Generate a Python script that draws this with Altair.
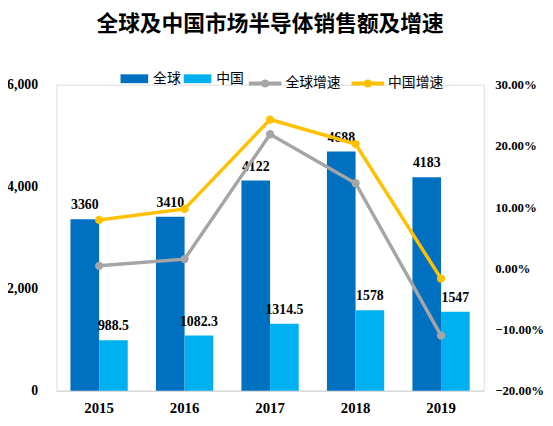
import altair as alt
import pandas as pd

years = ["2015", "2016", "2017", "2018", "2019"]
global_sales = [3360, 3410, 4122, 4688, 4183]
china_sales = [988.5, 1082.3, 1314.5, 1578, 1547]
global_growth = [0.004, 0.015, 0.219, 0.139, -0.110]
china_growth = [0.079, 0.097, 0.243, 0.203, -0.017]

bar_series = ["全球", "中国"]
line_series = ["全球增速", "中国增速"]
bar_colors = ["#0070C0", "#00B0F0"]
line_colors = ["#A5A5A5", "#FFC000"]

rows = []
for i, y in enumerate(years):
    rows.append({"year": y, "series": "全球", "value": global_sales[i], "label": f"{global_sales[i]:g}"})
    rows.append({"year": y, "series": "中国", "value": china_sales[i], "label": f"{china_sales[i]:g}"})
bars_df = pd.DataFrame(rows)

lrows = []
for i, y in enumerate(years):
    lrows.append({"year": y, "series": "全球增速", "rate": global_growth[i]})
    lrows.append({"year": y, "series": "中国增速", "rate": china_growth[i]})
lines_df = pd.DataFrame(lrows)

NUM_FONT = "Liberation Serif"
CJK_FONT = "Noto Sans CJK SC"

x_enc = alt.X(
    "year:N",
    sort=years,
    scale=alt.Scale(paddingInner=0.33, paddingOuter=0.165),
    axis=alt.Axis(
        title=None, labelAngle=0, ticks=False, domainColor="#D9D9D9", domainWidth=1.5,
        labelPadding=10, labelFont=NUM_FONT, labelFontSize=15, labelFontWeight="bold",
        labelColor="#000000", grid=False,
    ),
)

y_left = alt.Y(
    "value:Q",
    scale=alt.Scale(domain=[0, 6000], nice=False),
    axis=alt.Axis(
        title=None, values=[0, 2000, 4000, 6000], format=",.0f", domain=False, ticks=False,
        grid=False, labelPadding=19, labelFont=NUM_FONT, labelFontSize=14,
        labelFontWeight="bold", labelColor="#000000",
    ),
)

bar_rect = "M-1,-0.32H1V0.32H-1Z"
bars = alt.Chart(bars_df).mark_bar().encode(
    x=x_enc,
    xOffset=alt.XOffset("series:N", sort=bar_series, scale=alt.Scale(paddingInner=0, paddingOuter=0)),
    y=y_left,
    color=alt.Color(
        "series:N",
        scale=alt.Scale(domain=bar_series, range=bar_colors),
        legend=alt.Legend(
            title=None, orient="none", direction="horizontal", legendX=65, legendY=-20,
            symbolType=bar_rect, symbolSize=784, symbolStrokeWidth=0, labelOffset=5,
            columnPadding=3, labelFont=CJK_FONT, labelFontSize=14, labelColor="#000000",
            padding=0,
        ),
    ),
)

bar_text = alt.Chart(bars_df).mark_text(
    baseline="bottom", dy=-7, font=NUM_FONT, fontSize=14, fontWeight="bold", color="#000000"
).encode(
    x=alt.X("year:N", sort=years),
    xOffset=alt.XOffset("series:N", sort=bar_series),
    y=alt.Y("value:Q"),
    text="label:N",
)

bar_layer = alt.layer(bars, bar_text)

y_right = alt.Y(
    "rate:Q",
    scale=alt.Scale(domain=[-0.2, 0.3], nice=False),
    axis=alt.Axis(
        title=None, orient="right", values=[-0.2, -0.1, 0, 0.1, 0.2, 0.3], format=".2%",
        domain=False, ticks=False, grid=False, labelPadding=11, labelFont=NUM_FONT,
        labelFontSize=13, labelFontWeight="bold", labelColor="#000000",
    ),
)

line_sym = "M-1,0H1M-0.12,0A0.12,0.12 0 1,0 0.12,0A0.12,0.12 0 1,0 -0.12,0"
lines = alt.Chart(lines_df).mark_line(strokeWidth=3.5).encode(
    x=alt.X("year:N", sort=years),
    y=y_right,
    stroke=alt.Stroke(
        "series:N",
        scale=alt.Scale(domain=line_series, range=line_colors),
        legend=alt.Legend(
            title=None, orient="none", direction="horizontal", legendX=193, legendY=-20,
            symbolType=line_sym, symbolSize=1089, symbolStrokeWidth=4, labelOffset=2,
            columnPadding=3, labelFont=CJK_FONT, labelFontSize=14, labelColor="#000000",
            padding=0,
        ),
    ),
)

dots = alt.Chart(lines_df).mark_circle(size=70, opacity=1).encode(
    x=alt.X("year:N", sort=years),
    y=alt.Y("rate:Q"),
    fill=alt.Fill("series:N", scale=alt.Scale(domain=line_series, range=line_colors), legend=None),
)

line_layer = alt.layer(lines, dots)

chart = (
    alt.layer(bar_layer, line_layer)
    .resolve_scale(y="independent")
    .properties(
        width=433,
        height=310,
        autosize="none",
        padding={"left": 49, "top": 75, "right": 62, "bottom": 25},
        title=alt.TitleParams(
            "全球及中国市场半导体销售额及增速", font=CJK_FONT, fontSize=22,
            fontWeight="bold", color="#000000", anchor="middle", offset=29,
        ),
    )
    .configure_view(stroke=None)
    .configure(background="#FFFFFF")
)

chart.save("out.html", embed_options={"renderer": "svg", "actions": False})
